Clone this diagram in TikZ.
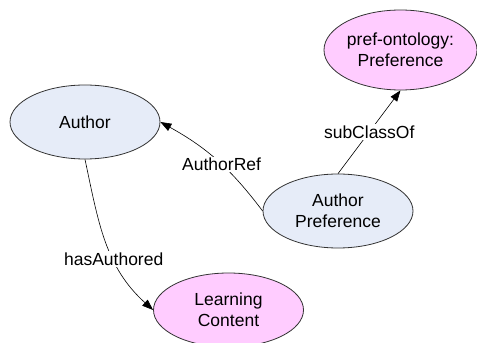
\documentclass[tikz,border=0pt]{standalone}
\usepackage{fontspec}
\setmainfont{Liberation Sans}
\usetikzlibrary{shapes.geometric,arrows.meta}
\definecolor{classpink}{RGB}{255,204,255}
\definecolor{classblue}{RGB}{230,236,248}
\begin{document}
\begin{tikzpicture}[x=1pt, y=1pt,
    every node/.style = {align=center, font=\fontsize{17.5}{21}\selectfont},
    cls/.style = {shape=ellipse, draw=black!80, line width=0.8pt, inner sep=0pt,
                  minimum width=150pt, minimum height=74pt},
    rel/.style = {draw, line width=0.6pt, -{Triangle[length=11pt,width=8pt]}},
    lbl/.style = {fill=white, inner sep=1.5pt}]
    \useasboundingbox (0,0) rectangle (477,343);
    \node[cls, fill=classpink, minimum width=153pt, minimum height=80pt] (pref) at (400.5,293) {pref-ontology:\\Preference};
    \node[cls, fill=classblue] (author) at (85,221) {Author};
    \node[cls, fill=classblue] (apref) at (338,132) {Author\\Preference};
    \node[cls, fill=classpink] (content) at (228.5,33) {Learning\\Content};
    \draw[rel] (apref.north) -- node[lbl] {subClassOf} (pref.south);
    \draw[rel] (apref.west) to[bend right=12] node[lbl, pos=0.45] {AuthorRef} (author.east);
    \draw[rel] (author.south) to[out=-78, in=138] node[lbl, pos=0.62] {hasAuthored} (content.west);
\end{tikzpicture}
\end{document}
